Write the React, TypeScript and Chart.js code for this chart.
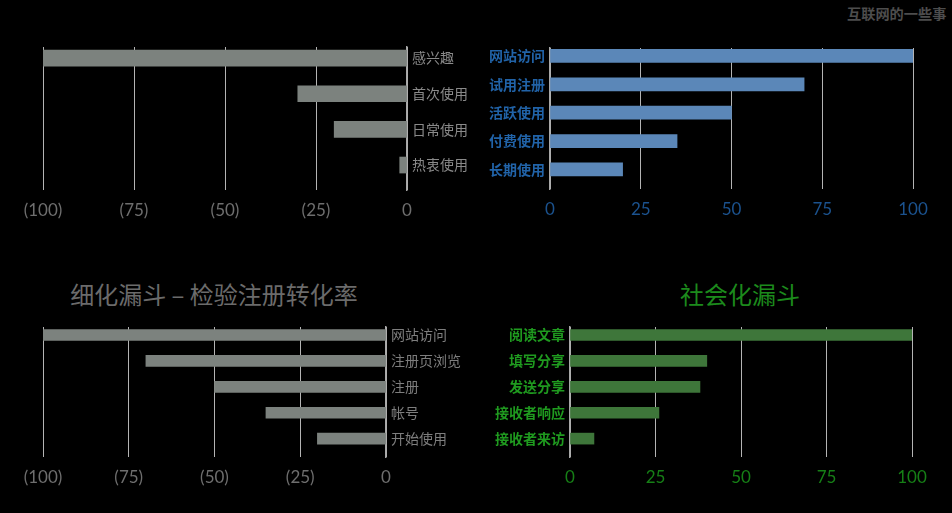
import React, { useEffect, useRef } from 'react';
import { Chart, ChartConfiguration, registerables } from 'chart.js';

Chart.register(...registerables);

// Top left: user engagement funnel (shown as negative, left-pointing bars)
const engageLabels = ['感兴趣', '首次使用', '日常使用', '热衷使用'];
const engageValues = [-100, -30, -20, -2];

// Top right: product funnel
const productLabels = ['网站访问', '试用注册', '活跃使用', '付费使用', '长期使用'];
const productValues = [100, 70, 50, 35, 20];

// Bottom left: detailed funnel – registration conversion
const detailLabels = ['网站访问', '注册页浏览', '注册', '帐号', '开始使用'];
const detailValues = [-100, -70, -50, -35, -20];

// Bottom right: social funnel
const socialLabels = ['阅读文章', '填写分享', '发送分享', '接收者响应', '接收者来访'];
const socialValues = [100, 40, 38, 26, 7];

const detailTitle = '细化漏斗 – 检验注册转化率';
const socialTitle = '社会化漏斗';
const watermark = '互联网的一些事';

const NUM_FONT = 'Lato, "Open Sans", sans-serif';
const CJK_FONT = '"Noto Sans CJK SC", "Noto Sans", sans-serif';

interface FunnelProps {
  labels: string[];
  values: number[];
  left: number;
  top: number;
  width: number;
  height: number;
  pad: { left: number; top: number; right: number; bottom: number };
  yWidth: number;
  xHeight: number;
  yMin: number;
  yMax: number;
  barThickness: number;
  barColor: string;
  labelColor: string;
  labelBold?: boolean;
  tickColor: string;
  negative?: boolean;
}

const FunnelChart: React.FC<FunnelProps> = (p) => {
  const canvasRef = useRef<HTMLCanvasElement>(null);

  useEffect(() => {
    if (!canvasRef.current) return;
    const ctx = canvasRef.current.getContext('2d');
    if (!ctx) return;

    const config: ChartConfiguration<'bar'> = {
      type: 'bar',
      data: {
        datasets: [
          {
            data: p.values.map((v, i) => ({ x: v, y: i })) as any,
            backgroundColor: p.barColor,
            borderWidth: 0,
            barThickness: p.barThickness,
          },
        ],
      },
      options: {
        indexAxis: 'y',
        responsive: false,
        animation: false,
        devicePixelRatio: 1,
        layout: { padding: p.pad },
        plugins: {
          legend: { display: false },
          tooltip: { enabled: false },
        },
        scales: {
          x: {
            type: 'linear',
            min: p.negative ? -100 : 0,
            max: p.negative ? 0 : 100,
            afterFit: (scale) => {
              scale.height = p.xHeight;
            },
            grid: { color: '#b4b4b4', lineWidth: 1, drawTicks: false },
            border: { display: false },
            ticks: {
              stepSize: 25,
              padding: 10,
              color: p.tickColor,
              font: { family: NUM_FONT, size: 17 },
              callback: (v) => (Number(v) < 0 ? '(' + -Number(v) + ')' : String(v)),
            },
          },
          y: {
            type: 'linear',
            position: p.negative ? 'right' : 'left',
            reverse: true,
            offset: false,
            min: p.yMin,
            max: p.yMax,
            afterFit: (scale) => {
              scale.width = p.yWidth;
            },
            afterBuildTicks: (scale) => {
              scale.ticks = p.labels.map((_, i) => ({ value: i }));
            },
            grid: { display: false, drawTicks: false, offset: false },
            border: { display: true, color: '#a8a8a8', width: 1.5 },
            ticks: {
              padding: 5,
              color: p.labelColor,
              font: { family: CJK_FONT, size: 14, weight: p.labelBold ? 'bold' : 'normal' },
              callback: (v) => p.labels[Number(v)] ?? '',
            },
          },
        },
      },
    };

    const chart = new Chart(ctx, config);
    return () => chart.destroy();
  }, [p]);

  return (
    <canvas
      ref={canvasRef}
      width={p.width}
      height={p.height}
      style={{ position: 'absolute', left: p.left, top: p.top, width: p.width, height: p.height }}
    />
  );
};

export default function App() {
  return (
    <div
      style={{
        position: 'fixed',
        left: 0,
        top: 0,
        width: 952,
        height: 513,
        background: '#000',
        overflow: 'hidden',
      }}
    >
      <div
        style={{
          position: 'absolute',
          left: 847,
          top: 4,
          fontFamily: CJK_FONT,
          fontSize: 14.2,
          lineHeight: '18px',
          fontWeight: 'bold',
          color: '#4d4d4d',
          whiteSpace: 'nowrap',
        }}
      >
        {watermark}
      </div>

      <FunnelChart
        labels={engageLabels}
        values={engageValues}
        left={0}
        top={0}
        width={476}
        height={240}
        pad={{ left: 43, top: 47, right: 0, bottom: 0 }}
        yWidth={69}
        xHeight={50}
        yMin={-0.31}
        yMax={3.7}
        barThickness={16}
        barColor="#7c827e"
        labelColor="#8a8a8a"
        tickColor="#6e6e6e"
        negative
      />

      <FunnelChart
        labels={productLabels}
        values={productValues}
        left={476}
        top={0}
        width={476}
        height={240}
        pad={{ left: 0, top: 48, right: 39, bottom: 0 }}
        yWidth={74}
        xHeight={51}
        yMin={-0.28}
        yMax={4.69}
        barThickness={13}
        barColor="#5b87b8"
        labelColor="#2163a8"
        labelBold
        tickColor="#1b528e"
      />

      <div
        style={{
          position: 'absolute',
          left: 14,
          width: 400,
          top: 278,
          textAlign: 'center',
          fontFamily: CJK_FONT,
          fontSize: 24,
          lineHeight: '32px',
          color: '#6b6b6b',
          whiteSpace: 'nowrap',
        }}
      >
        {detailTitle}
      </div>

      <div
        style={{
          position: 'absolute',
          left: 540,
          width: 400,
          top: 278,
          textAlign: 'center',
          fontFamily: CJK_FONT,
          fontSize: 24,
          lineHeight: '32px',
          color: '#1c8a1c',
          whiteSpace: 'nowrap',
        }}
      >
        {socialTitle}
      </div>

      <FunnelChart
        labels={detailLabels}
        values={detailValues}
        left={0}
        top={260}
        width={476}
        height={253}
        pad={{ left: 43, top: 67, right: 0, bottom: 0 }}
        yWidth={90}
        xHeight={56}
        yMin={-0.31}
        yMax={4.71}
        barThickness={11}
        barColor="#7c827e"
        labelColor="#7e7e7e"
        tickColor="#6e6e6e"
        negative
      />

      <FunnelChart
        labels={socialLabels}
        values={socialValues}
        left={476}
        top={260}
        width={476}
        height={253}
        pad={{ left: 0, top: 67, right: 40, bottom: 0 }}
        yWidth={94}
        xHeight={56}
        yMin={-0.31}
        yMax={4.71}
        barThickness={11}
        barColor="#3e763a"
        labelColor="#1f9a1f"
        labelBold
        tickColor="#167f16"
      />
    </div>
  );
}
